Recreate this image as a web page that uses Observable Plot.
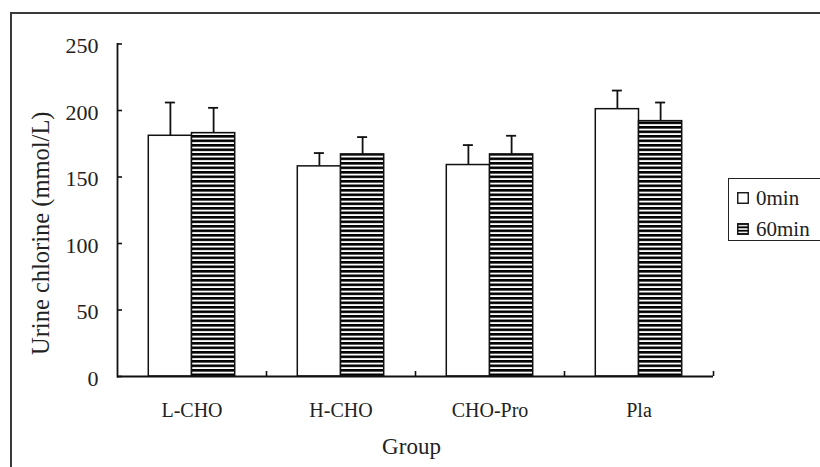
<!DOCTYPE html>
<html>
<head>
<meta charset="utf-8">
<script src="https://cdn.jsdelivr.net/npm/d3@7"></script>
<script src="https://cdn.jsdelivr.net/npm/@observablehq/plot@0.6"></script>
<style>
  html, body { margin: 0; padding: 0; background: #fff; }
  #wrap { position: relative; width: 820px; height: 467px; overflow: hidden; background: #fff; }
  #chart svg { display: block; }
  #outer { position: absolute; left: 10px; top: 12px; width: 900px; height: 600px;
           border-top: 2px solid #3a3a3a; border-left: 2px solid #3a3a3a; pointer-events: none; }
  #legend { position: absolute; left: 728px; top: 178px; width: 120px; height: 61px;
            border: 1px solid #222; background: #fff; font-family: "Liberation Serif", serif;
            font-size: 21px; color: #222; }
  .item { position: absolute; left: 8px; height: 24px; display: flex; align-items: center; }
</style>
</head>
<body>
<svg width="0" height="0" style="position:absolute">
  <defs>
    <pattern id="hatch" patternUnits="userSpaceOnUse" width="8" height="4.5">
      <rect width="8" height="4.5" fill="#fff"></rect>
      <rect width="8" height="2.6" fill="#000"></rect>
    </pattern>
    <pattern id="hatchLegend" patternUnits="userSpaceOnUse" width="8" height="3.4">
      <rect width="8" height="3.4" fill="#fff"></rect>
      <rect width="8" height="1.9" fill="#000"></rect>
    </pattern>
  </defs>
</svg>
<div id="wrap">
  <div id="chart"></div>
  <div id="outer"></div>
  <div id="legend"></div>
</div>
<script>
// ---- data ----
const groups = ["L-CHO", "H-CHO", "CHO-Pro", "Pla"];
const series = ["0min", "60min"];
const mean0 = [181, 158, 159, 201];
const mean60 = [183, 167, 167, 192];
const err0 = [25, 10, 15, 14];
const err60 = [19, 13, 14, 14];
const yTicks = [0, 50, 100, 150, 200, 250];
const xLabel = "Group";
const yLabel = "Urine chlorine (mmol/L)";

// ---- layout / style ----
const W = 820, H = 467;
const mL = 117, mR = 107, mT = 43.5, mB = 91;
const bw = (W - mL - mR) / groups.length;
const barW = bw * 0.29;
const capW = 10;
const fills = ["#fff", "url(#hatch)"];
const ink = "#111";

const rows = groups.flatMap((g, i) => [
  {group: g, series: series[0], value: mean0[i], err: err0[i]},
  {group: g, series: series[1], value: mean60[i], err: err60[i]}
]);

const marks = [];
series.forEach((s, k) => {
  const data = rows.filter(d => d.series === s);
  const off = (k - 0.5) * barW; // bar centre offset from band centre
  const insL = bw / 2 + off - barW / 2;
  marks.push(Plot.barY(data, {
    x: "group", y: "value", fill: fills[k], stroke: ink, strokeWidth: 1.5,
    insetLeft: insL, insetRight: bw - insL - barW
  }));
  marks.push(Plot.ruleX(data, {
    x: "group", y1: "value", y2: d => d.value + d.err, dx: off, stroke: ink, strokeWidth: 1.8
  }));
  marks.push(Plot.tickY(data, {
    x: "group", y: d => d.value + d.err, stroke: ink, strokeWidth: 1.8,
    insetLeft: bw / 2 + off - capW / 2, insetRight: bw / 2 - off - capW / 2
  }));
});

// axis lines
marks.push(Plot.frame({anchor: "left", stroke: ink, strokeWidth: 1.8}));
marks.push(Plot.ruleY([0], {stroke: ink, strokeWidth: 1.8}));
// y axis: inward ticks + labels
marks.push(Plot.axisY(yTicks, {tickSize: -5, tickFormat: () => "", label: null, stroke: ink, strokeWidth: 1.6}));
marks.push(Plot.axisY(yTicks, {tickSize: 0, tickPadding: 19, label: null, dy: 2,
  fontFamily: "Liberation Serif", fontSize: 22, fill: "#222"}));
// x axis: boundary ticks + category labels
marks.push(Plot.axisX({tickSize: -5, dx: bw / 2, tickFormat: () => "", label: null, stroke: ink, strokeWidth: 1.6}));
marks.push(Plot.axisX({tickSize: 0, tickPadding: 26.5, label: null,
  fontFamily: "Liberation Serif", fontSize: 20, fill: "#222"}));
// axis titles
marks.push(Plot.text([yLabel], {text: d => d, frameAnchor: "left", textAnchor: "middle", lineAnchor: "middle",
  rotate: -90, dx: -76, dy: 23, fontFamily: "Liberation Serif", fontSize: 24.5, fill: "#222"}));
marks.push(Plot.text([xLabel], {text: d => d, frameAnchor: "bottom", textAnchor: "middle", lineAnchor: "bottom",
  dx: -4, dy: 77, fontFamily: "Liberation Serif", fontSize: 23, fill: "#222"}));

const chart = Plot.plot({
  width: W, height: H,
  marginLeft: mL, marginRight: mR, marginTop: mT, marginBottom: mB,
  style: {background: "#fff", color: "#222", fontFamily: "Liberation Serif"},
  x: {type: "band", domain: groups, paddingInner: 0, paddingOuter: 0},
  y: {domain: [0, 250]},
  marks
});
document.getElementById("chart").appendChild(chart);

// legend
const legend = document.getElementById("legend");
const swFills = ["#fff", "url(#hatchLegend)"];
series.forEach((s, k) => {
  const item = document.createElement("div");
  item.className = "item";
  item.style.top = (7 + k * 31) + "px";
  const sw = document.createElementNS("http://www.w3.org/2000/svg", "svg");
  sw.setAttribute("width", 12); sw.setAttribute("height", 12);
  sw.style.marginRight = "7px";
  const r = document.createElementNS("http://www.w3.org/2000/svg", "rect");
  r.setAttribute("x", 0.75); r.setAttribute("y", 0.75); r.setAttribute("width", 10.5); r.setAttribute("height", 10.5);
  r.setAttribute("fill", swFills[k]); r.setAttribute("stroke", ink); r.setAttribute("stroke-width", 1.4);
  sw.appendChild(r);
  item.appendChild(sw);
  const t = document.createElement("span");
  t.textContent = s;
  item.appendChild(t);
  legend.appendChild(item);
});
</script>
</body>
</html>
